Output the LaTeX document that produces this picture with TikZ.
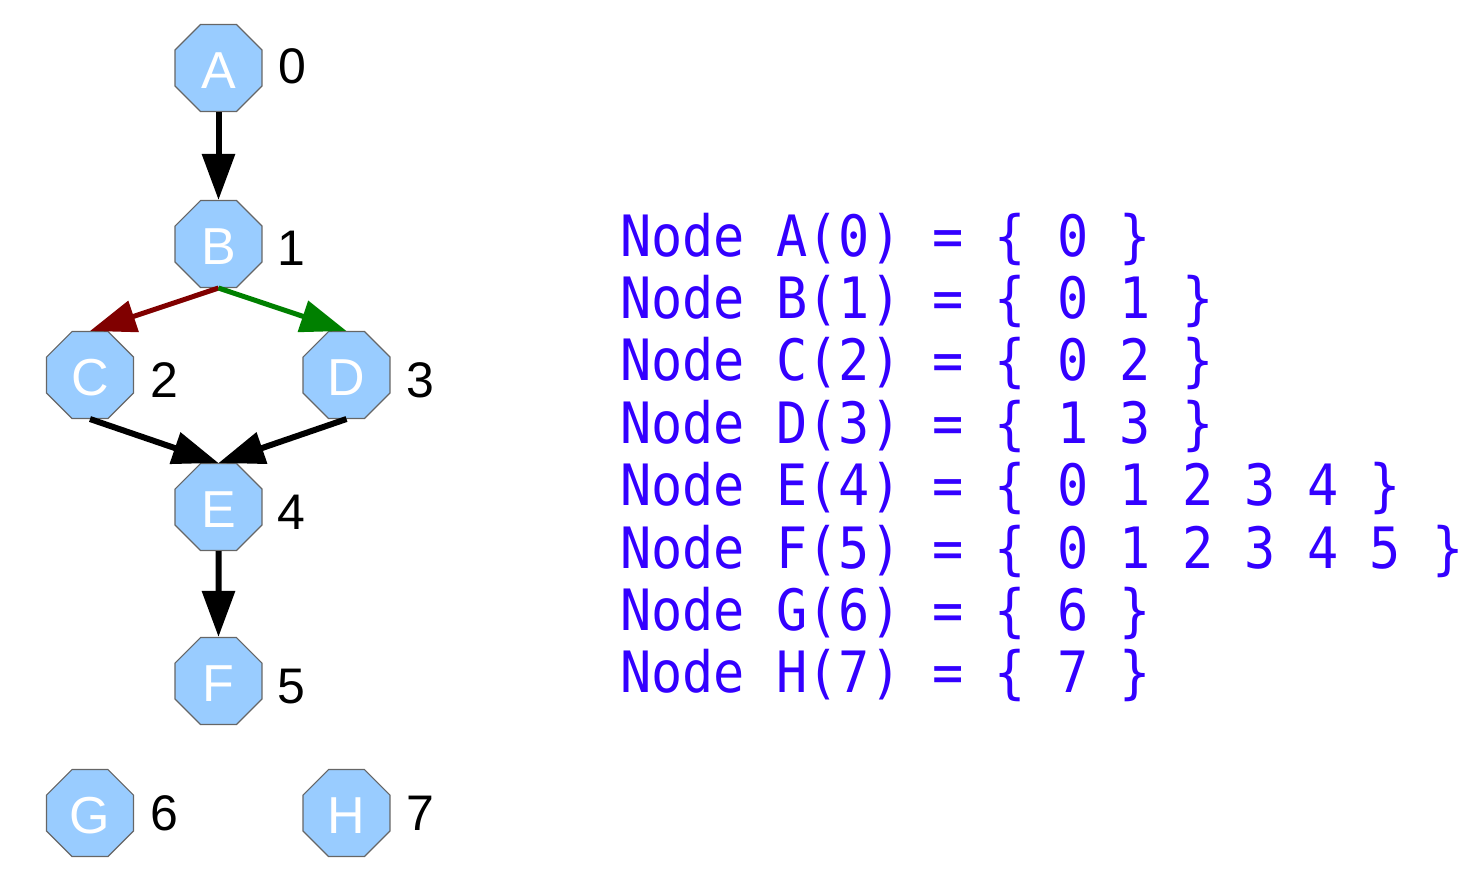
\documentclass[tikz,border=0pt]{standalone}
\usepackage{fontspec}
\setmainfont{Liberation Sans}
\newfontfamily\codefont[FakeStretch=0.91]{DejaVu Sans Mono}
\usetikzlibrary{shapes.geometric,arrows.meta}
\definecolor{nodefill}{RGB}{153,204,255}
\definecolor{nodeline}{RGB}{102,102,102}
\definecolor{codeblue}{RGB}{51,0,255}
\definecolor{darkred}{RGB}{128,0,0}
\definecolor{darkgreen}{RGB}{0,128,0}
\newcommand{\lowered}[1]{\raisebox{-3pt}[\height][\depth]{#1}}
\begin{document}
\begin{tikzpicture}[x=1pt,y=-1pt,
  octnode/.style={regular polygon, regular polygon sides=8, minimum size=94pt, inner sep=0pt,
    fill=nodefill, draw=nodeline, line width=1.2pt, text=white,
    font=\fontsize{52}{52}\selectfont},
  numlabel/.style={inner sep=0pt, font=\fontsize{50}{50}\selectfont, text=black},
  edge/.style={line width=6pt, -{Triangle[length=46pt,width=32pt]}},
  codeline/.style={anchor=base west, inner sep=0pt, text=codeblue,
    font=\codefont\fontsize{57}{57}\selectfont}
]
\useasboundingbox (0,0) rectangle (1477,886);
\node[octnode] (A) at (218.5,68) {\lowered{A}};
\node[octnode] (B) at (218.5,244) {\lowered{B}};
\node[octnode] (C) at (90,375) {\lowered{C}};
\node[octnode] (D) at (346.5,375) {\lowered{D}};
\node[octnode] (E) at (218.5,507) {\lowered{E}};
\node[octnode] (F) at (218.5,681) {\lowered{F}};
\node[octnode] (G) at (90,813) {\lowered{G}};
\node[octnode] (H) at (346.5,813) {\lowered{H}};

\node[numlabel] (lA) at (292,66) {0};
\node[numlabel] (lB) at (291,248) {1};
\node[numlabel] (lC) at (164,380) {2};
\node[numlabel] (lD) at (420,380) {3};
\node[numlabel] (lE) at (291,512) {4};
\node[numlabel] (lF) at (291,687) {5};
\node[numlabel] (lG) at (164,813) {6};
\node[numlabel] (lH) at (420,813) {7};

\draw[edge] (A.south) -- (B.north);
\draw[edge, draw=darkred, fill=darkred, line width=5pt] (B.south) -- (C.north);
\draw[edge, draw=darkgreen, fill=darkgreen, line width=5pt] (B.south) -- (D.north);
\draw[edge] (C.south) -- (E.north);
\draw[edge] (D.south) -- (E.north);
\draw[edge] (E.south) -- (F.north);

\node[codeline] (t0) at (620,256) {Node A(0) = \{ 0 \}};
\node[codeline] (t1) at (620,318.4) {Node B(1) = \{ 0 1 \}};
\node[codeline] (t2) at (620,380.8) {Node C(2) = \{ 0 2 \}};
\node[codeline] (t3) at (620,443.2) {Node D(3) = \{ 1 3 \}};
\node[codeline] (t4) at (620,505.6) {Node E(4) = \{ 0 1 2 3 4 \}};
\node[codeline] (t5) at (620,568) {Node F(5) = \{ 0 1 2 3 4 5 \}};
\node[codeline] (t6) at (620,630.4) {Node G(6) = \{ 6 \}};
\node[codeline] (t7) at (620,692.8) {Node H(7) = \{ 7 \}};
\end{tikzpicture}
\end{document}
